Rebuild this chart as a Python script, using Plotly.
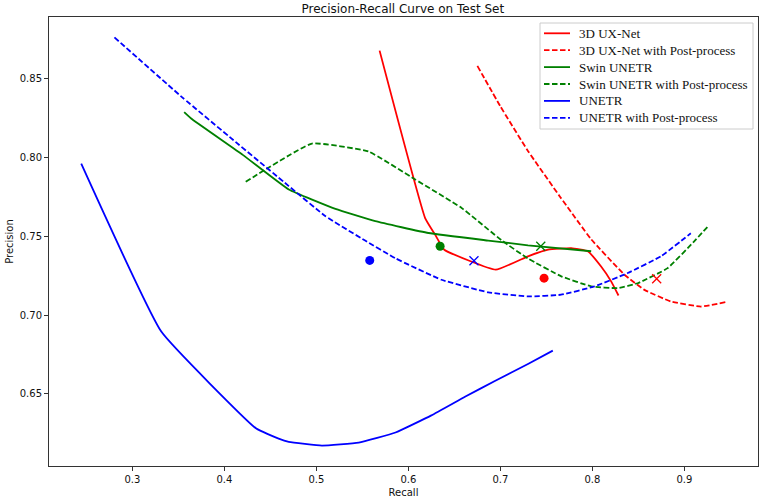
import plotly.graph_objects as go

# ---- data ----
uxnet_recall = [0.5687, 0.6182, 0.629, 0.639, 0.695, 0.730, 0.752, 0.777, 0.795, 0.8095, 0.8204, 0.8284]
uxnet_prec = [0.8679, 0.7616, 0.7511, 0.7415, 0.7288, 0.7373, 0.7415, 0.7425, 0.7405, 0.7308, 0.7214, 0.7124]

uxnet_pp_recall = [0.675, 0.700, 0.730, 0.765, 0.7987, 0.8349, 0.8566, 0.8854, 0.918, 0.945]
uxnet_pp_prec = [0.8582, 0.8325, 0.8042, 0.775, 0.7481, 0.7256, 0.716, 0.7086, 0.7054, 0.7082]

swin_recall = [0.3563, 0.365, 0.420, 0.470, 0.5207, 0.564, 0.6218, 0.6868, 0.730, 0.7987]
swin_prec = [0.8289, 0.8243, 0.8017, 0.7797, 0.7674, 0.7596, 0.7521, 0.7473, 0.7443, 0.7405]

swin_pp_recall = [0.4232, 0.4953, 0.5568, 0.6074, 0.6579, 0.7012, 0.730, 0.7662, 0.7987, 0.8276, 0.8493, 0.8818, 0.9107, 0.9255]
swin_pp_prec = [0.7846, 0.8089, 0.8038, 0.7861, 0.768, 0.7475, 0.7359, 0.7246, 0.7182, 0.7171, 0.7202, 0.7298, 0.7468, 0.7562]

unetr_recall = [0.2444, 0.3314, 0.4347, 0.459, 0.470, 0.506, 0.546, 0.586, 0.625, 0.6615, 0.694, 0.730, 0.757]
unetr_prec = [0.7961, 0.6895, 0.6279, 0.6215, 0.6195, 0.6171, 0.619, 0.6254, 0.6363, 0.6481, 0.6581, 0.6689, 0.6774]

unetr_pp_recall = [0.2805, 0.3545, 0.410, 0.470, 0.510, 0.553, 0.586, 0.636, 0.687, 0.730, 0.766, 0.8024, 0.8385, 0.8745, 0.907]
unetr_pp_prec = [0.8763, 0.8381, 0.811, 0.7819, 0.7627, 0.7473, 0.736, 0.7224, 0.7144, 0.7118, 0.7129, 0.7182, 0.7267, 0.7373, 0.7519]

# operating points (dot = raw model, x = with post-process)
dot_recall = [0.7475, 0.6345, 0.558]
dot_prec = [0.7234, 0.7437, 0.7347]
cross_recall = [0.8699, 0.7439, 0.6713]
cross_prec = [0.723, 0.7437, 0.7345]
point_colors = ["#ff0000", "#008000", "#0000ff"]

series_names = ["3D UX-Net", "3D UX-Net with Post-process", "Swin UNETR",
                "Swin UNETR with Post-process", "UNETR", "UNETR with Post-process"]

x_ticks = [0.3, 0.4, 0.5, 0.6, 0.7, 0.8, 0.9]
y_ticks = [0.65, 0.70, 0.75, 0.80, 0.85]

DASH = "5.5px,2.5px"
LW = 1.8

fig = go.Figure()
curves = [
    (uxnet_recall, uxnet_prec, "#ff0000", "solid"),
    (uxnet_pp_recall, uxnet_pp_prec, "#ff0000", "dash"),
    (swin_recall, swin_prec, "#008000", "solid"),
    (swin_pp_recall, swin_pp_prec, "#008000", "dash"),
    (unetr_recall, unetr_prec, "#0000ff", "solid"),
    (unetr_pp_recall, unetr_pp_prec, "#0000ff", "dash"),
]
for (xs, ys, c, d), name in zip(curves, series_names):
    fig.add_trace(go.Scatter(x=xs, y=ys, mode="lines", name=name, showlegend=False,
                             line=dict(color=c, width=LW, dash=DASH if d == "dash" else "solid",
                                       shape="spline", smoothing=0.35)))

fig.add_trace(go.Scatter(x=dot_recall, y=dot_prec, mode="markers", showlegend=False,
                         marker=dict(color=point_colors, size=9, symbol="circle")))
fig.add_trace(go.Scatter(x=cross_recall, y=cross_prec, mode="markers", showlegend=False,
                         marker=dict(color=point_colors, size=9, symbol="x-thin",
                                     line=dict(color=point_colors, width=1.3))))

all_x = sum([c[0] for c in curves], [])
all_y = sum([c[1] for c in curves], [])
xr = max(all_x) - min(all_x)
yr = max(all_y) - min(all_y)
x_range = [min(all_x) - 0.05 * xr, max(all_x) + 0.05 * xr]
y_range = [min(all_y) - 0.05 * yr, max(all_y) + 0.05 * yr]

# ---- hand-drawn legend (matplotlib-like, compact rows) ----
PL, PR, PT, PB = 49, 758, 17, 466


def paper_x(px):
    return (px - PL) / (PR - PL)


def paper_y(py):
    return (PB - py) / (PB - PT)


shapes = [dict(type="rect", xref="paper", yref="paper", layer="above",
               x0=paper_x(540), x1=paper_x(753), y0=paper_y(129), y1=paper_y(23),
               line=dict(color="#cccccc", width=1), fillcolor="white")]
annotations = []
row_y0, row_step = 33.3, 16.9
for i, ((xs, ys, c, d), name) in enumerate(zip(curves, series_names)):
    ry = row_y0 + i * row_step
    shapes.append(dict(type="line", xref="paper", yref="paper", layer="above",
                       x0=paper_x(544), x1=paper_x(570), y0=paper_y(ry), y1=paper_y(ry),
                       line=dict(color=c, width=LW, dash=DASH if d == "dash" else "solid")))
    annotations.append(dict(text=name, xref="paper", yref="paper", x=paper_x(577), y=paper_y(ry),
                            xanchor="left", yanchor="middle", showarrow=False,
                            font=dict(family="Liberation Serif", size=13, color="#111")))

axis_common = dict(showline=True, linecolor="#333", linewidth=1, mirror=True,
                   ticks="outside", ticklen=4, tickcolor="#333", showgrid=False, zeroline=False,
                   tickfont=dict(family="DejaVu Sans", size=10, color="#111"))

fig.update_layout(
    width=760, height=500,
    margin=dict(l=PL, r=760 - PR, t=PT, b=500 - PB),
    plot_bgcolor="white", paper_bgcolor="white",
    showlegend=False,
    shapes=shapes, annotations=annotations,
    title=dict(text="Precision-Recall Curve on Test Set", x=0.53, xanchor="center",
               yref="container", y=0.982, yanchor="middle",
               font=dict(family="DejaVu Sans", size=12, color="#111")),
    xaxis=dict(range=x_range, tickvals=x_ticks, tickformat=".1f",
               title=dict(text="Recall", font=dict(family="DejaVu Sans", size=10, color="#111"), standoff=4),
               **axis_common),
    yaxis=dict(range=y_range, tickvals=y_ticks, tickformat=".2f",
               title=dict(text="Precision", font=dict(family="DejaVu Sans", size=10, color="#111"), standoff=4),
               **axis_common),
)

fig.write_html("out.html")
